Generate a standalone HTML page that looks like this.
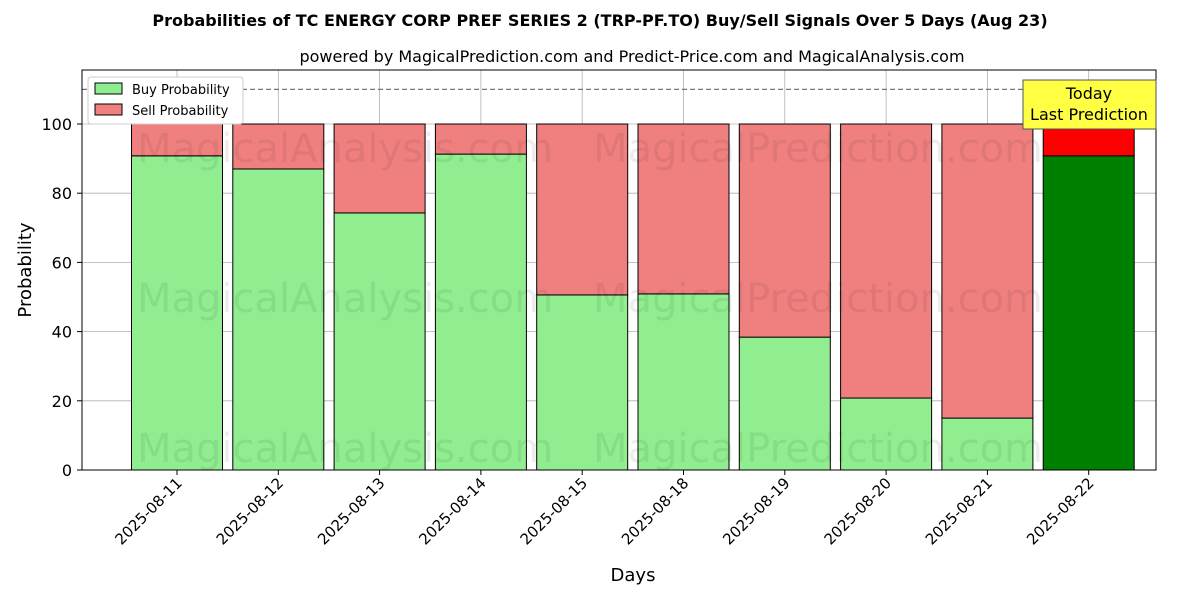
<!DOCTYPE html>
<html><head><meta charset="utf-8">
<style>body{margin:0;background:#fff;font-family:"DejaVu Sans","Liberation Sans",sans-serif}</style></head>
<body>
<svg id="chart" width="1200" height="600" xmlns="http://www.w3.org/2000/svg" font-family="DejaVu Sans, Liberation Sans, sans-serif">
<text x="600" y="26" text-anchor="middle" font-size="16" font-weight="bold">Probabilities of TC ENERGY CORP PREF SERIES 2 (TRP-PF.TO) Buy/Sell Signals Over 5 Days (Aug 23)</text>
<text x="632" y="62" text-anchor="middle" font-size="16">powered by MagicalPrediction.com and Predict-Price.com and MagicalAnalysis.com</text>
<g id="grid"></g>
<g id="bars"></g>
<g id="wm" fill="#000" fill-opacity="0.07" font-size="40">
<text x="345" y="162" text-anchor="middle">MagicalAnalysis.com</text>
<text x="818" y="162" text-anchor="middle">MagicalPrediction.com</text>
<text x="345" y="312" text-anchor="middle">MagicalAnalysis.com</text>
<text x="818" y="312" text-anchor="middle">MagicalPrediction.com</text>
<text x="345" y="462" text-anchor="middle">MagicalAnalysis.com</text>
<text x="818" y="462" text-anchor="middle">MagicalPrediction.com</text>
</g>
<g id="axes"></g>
<line id="thr" x1="82" x2="1156" stroke="#777" stroke-dasharray="5,3" stroke-width="1.2"/>
<rect x="82" y="70" width="1074" height="400" fill="none" stroke="#000" stroke-width="1"/>
<g>
<rect x="1023" y="80" width="133" height="49" fill="#ffff44" stroke="#555"/>
<text x="1089" y="99" text-anchor="middle" font-size="16">Today</text>
<text x="1089" y="120" text-anchor="middle" font-size="16">Last Prediction</text>
</g>
<g>
<rect x="88" y="77" width="155" height="47" fill="#fff" stroke="#ccc" rx="3"/>
<rect x="95" y="83" width="27" height="11" fill="lightgreen" stroke="#000"/>
<text x="132" y="94" font-size="13">Buy Probability</text>
<rect x="95" y="104" width="27" height="11" fill="lightcoral" stroke="#000"/>
<text x="132" y="115" font-size="13">Sell Probability</text>
</g>
<text x="633" y="581" text-anchor="middle" font-size="18">Days</text>
<text transform="translate(31,270) rotate(-90)" text-anchor="middle" font-size="18">Probability</text>
</svg>
<script>
const categories=["2025-08-11","2025-08-12","2025-08-13","2025-08-14","2025-08-15","2025-08-18","2025-08-19","2025-08-20","2025-08-21","2025-08-22"];
const buyValues=[90.8,87.0,74.3,91.3,50.6,50.9,38.4,20.8,15.0,90.8];
const sellValues=buyValues.map(v=>100-v);
const yTicks=[0,20,40,60,80,100];
const threshold=110;
const NS="http://www.w3.org/2000/svg";
const y=v=>470-v*3.46;
const x=i=>177+i*101.3;
const bw=91;
function mk(t,a,p){const e=document.createElementNS(NS,t);for(const k in a)e.setAttribute(k,a[k]);p.appendChild(e);return e;}
const grid=document.getElementById('grid'),bars=document.getElementById('bars'),axes=document.getElementById('axes');
yTicks.forEach(t=>{
 const l=mk('line',{x1:82,x2:1156,y1:y(t),y2:y(t),stroke:'#b0b0b0','stroke-width':0.8},grid);
 
 mk('line',{x1:77,x2:82,y1:y(t),y2:y(t),stroke:'#000'},axes);
 const tx=mk('text',{x:72,y:y(t)+6,'text-anchor':'end','font-size':16},axes);tx.textContent=t;
 
});
categories.forEach((c,i)=>{
 const l=mk('line',{x1:x(i),x2:x(i),y1:70,y2:470,stroke:'#b0b0b0','stroke-width':0.8},grid);
 
 const last=i===categories.length-1;
 const b=mk('rect',{x:x(i)-bw/2,y:y(buyValues[i]),width:bw,height:y(0)-y(buyValues[i]),fill:last?'green':'lightgreen',stroke:'#000','stroke-width':1},bars);
 
 const s=mk('rect',{x:x(i)-bw/2,y:y(100),width:bw,height:y(buyValues[i])-y(100),fill:last?'red':'lightcoral',stroke:'#000','stroke-width':1},bars);
 
 mk('line',{x1:x(i),x2:x(i),y1:470,y2:475,stroke:'#000'},axes);
 const tx=mk('text',{transform:`translate(${x(i)+6},${484}) rotate(-45)`,'text-anchor':'end','font-size':15},axes);tx.textContent=c;
 
});
const thr=document.getElementById('thr');thr.setAttribute('y1',y(threshold));thr.setAttribute('y2',y(threshold));
</script>
</body></html>
